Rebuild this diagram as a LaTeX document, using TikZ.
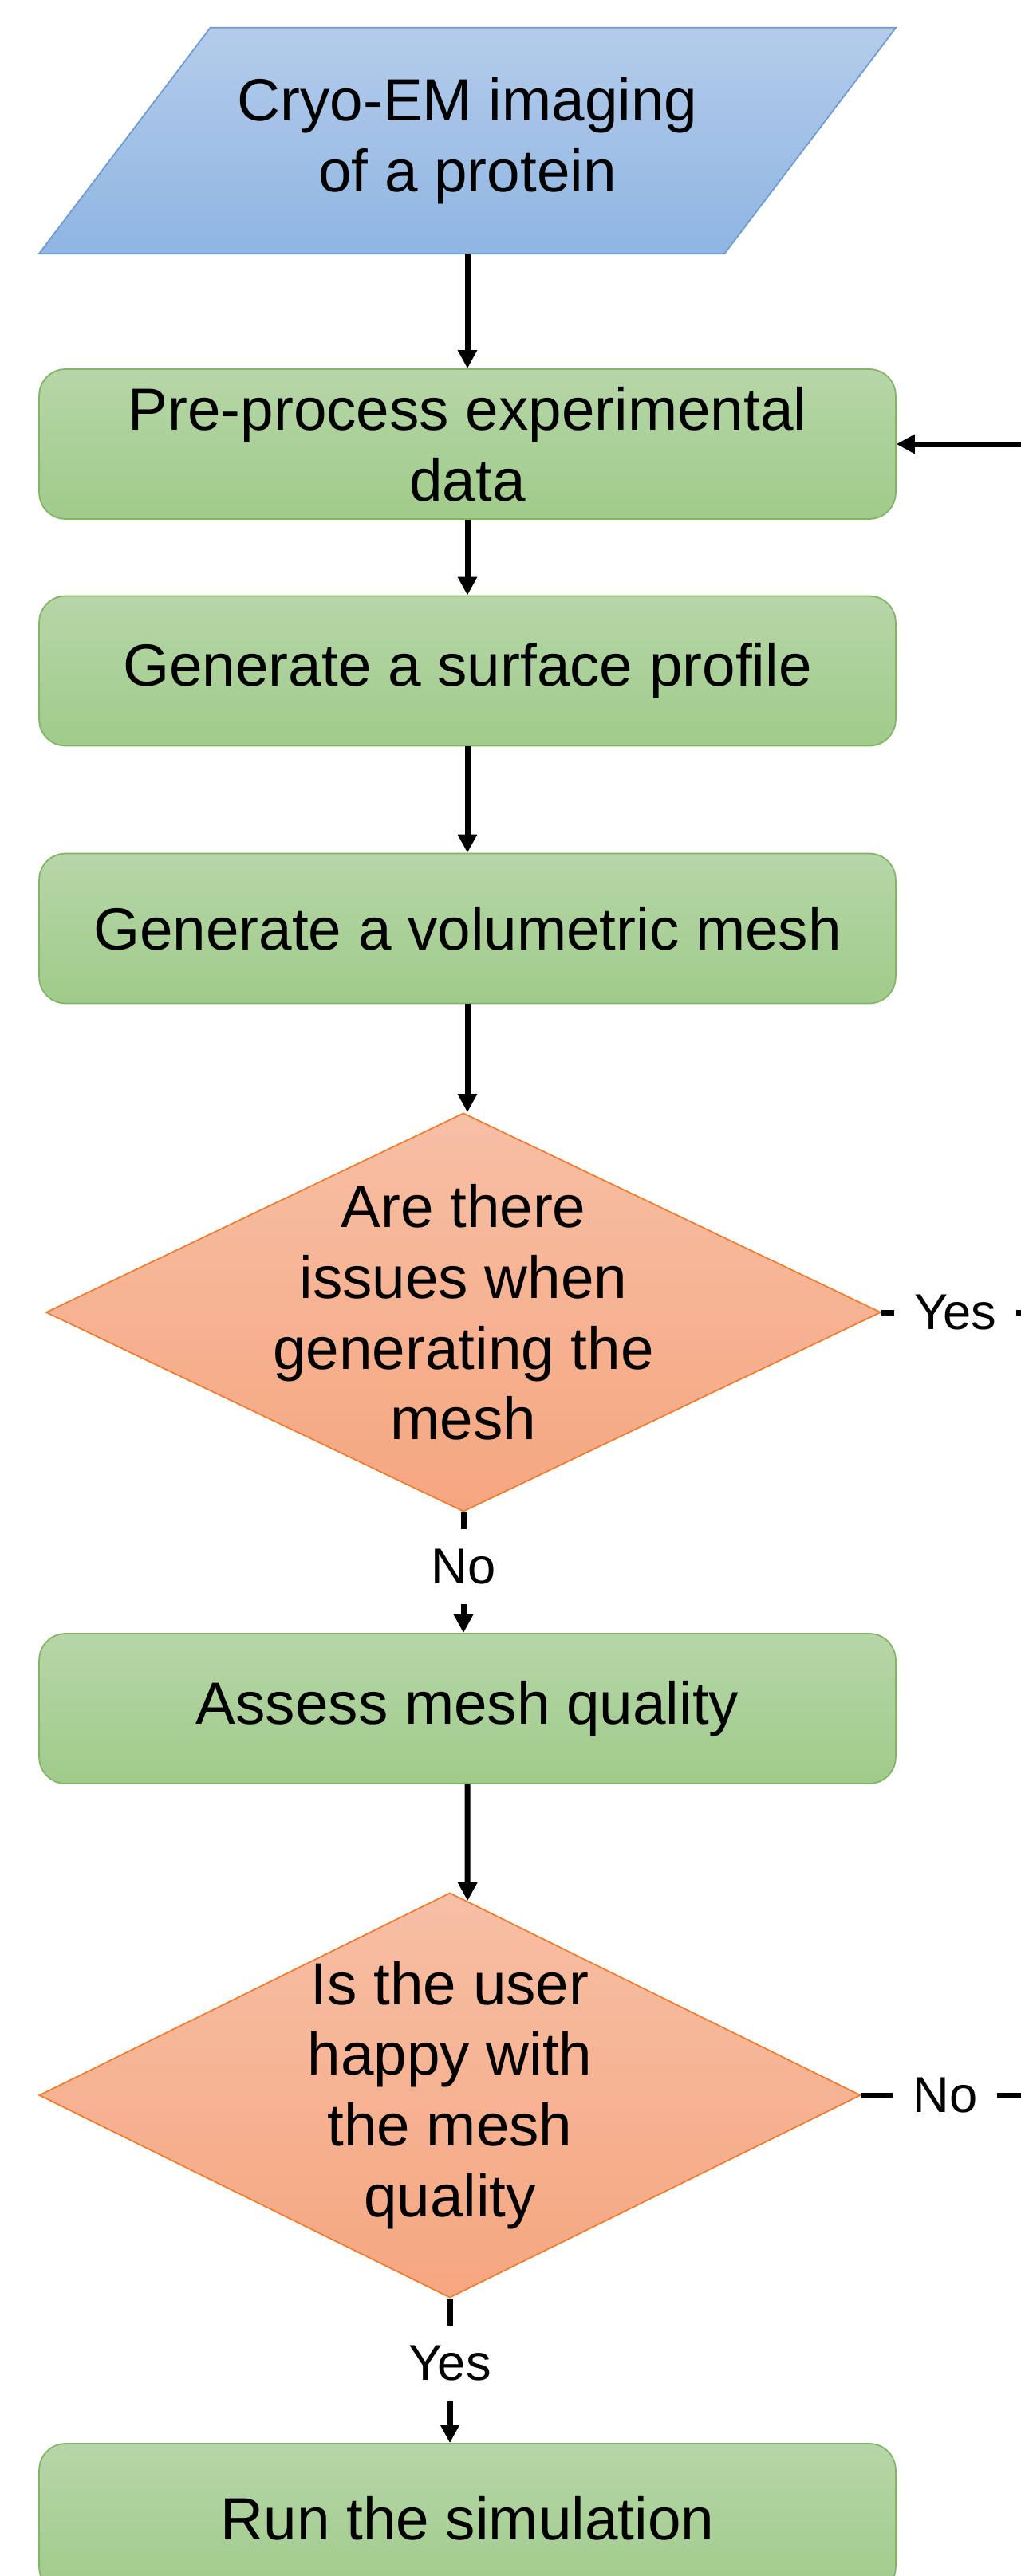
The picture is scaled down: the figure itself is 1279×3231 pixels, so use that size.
\documentclass[tikz,border=0pt]{standalone}
\usepackage{fontspec}
\setmainfont{Liberation Sans}
\usetikzlibrary{arrows.meta,calc,backgrounds,shapes.geometric}
\definecolor{bluetop}{RGB}{180,204,234}
\definecolor{bluebot}{RGB}{143,181,226}
\definecolor{blueline}{RGB}{110,155,210}
\definecolor{greentop}{RGB}{182,214,168}
\definecolor{greenbot}{RGB}{160,203,138}
\definecolor{greenline}{RGB}{130,179,102}
\definecolor{orangetop}{RGB}{247,191,165}
\definecolor{orangebot}{RGB}{245,166,128}
\definecolor{orangeline}{RGB}{237,125,49}

\begin{document}
\begin{tikzpicture}[x=0.02cm, y=-0.02cm,
every node/.style={font=\fontsize{42.5}{50.5}\selectfont, align=center},
io/.style={rectangle, minimum width=21.48cm, minimum height=5.66cm},
slanted/.style={draw=blueline, line width=1pt, top color=bluetop, bottom color=bluebot},
process/.style={rectangle, rounded corners=0.66cm, minimum width=21.48cm,
  minimum height=3.76cm, draw=greenline, line width=1pt,
  top color=greentop, bottom color=greenbot},
decision/.style={diamond, inner sep=0pt, draw=orangeline, line width=1pt,
  top color=orangetop, bottom color=orangebot},
flow/.style={line width=0.14cm, -{Triangle[length=0.46cm,width=0.46cm]}},
answer/.style={fill=white, inner sep=0.5cm, font=\fontsize{36}{43}\selectfont}]
\useasboundingbox (0,0) rectangle (1279,3231);

\node[io] (img) at (586,176.5) {Cryo-EM imaging\\of a protein};
\begin{scope}[on background layer]
\path[slanted] ($(img.north west)+(215,0)$) -- (img.north east)
  -- ($(img.south east)-(215,0)$) -- (img.south west) -- cycle;
\end{scope}
\node[process] (pre) at (586,557) {Pre-process experimental\\data};
\node[process] (surf) at (586,841.5) {Generate a surface profile};
\node[process] (vol) at (586,1164.5) {Generate a volumetric mesh};
\node[decision, minimum width=20.94cm, minimum height=10cm,
  label={center:Are there\\issues when\\generating the\\mesh}] (issue) at (581,1646) {};
\node[process] (assess) at (586,2143) {Assess mesh quality};
\node[decision, minimum width=20.6cm, minimum height=10.16cm,
  label={center:Is the user\\happy with\\the mesh\\quality}] (happy) at (564,2628) {};
\node[process] (sim) at (586,3159) {Run the simulation};

% main flow
\draw[flow] (img.south) -- (pre.north);
\draw[flow] (pre.south) -- (surf.north);
\draw[flow] (surf.south) -- (vol.north);
\draw[flow] (vol.south) -- (vol.south |- issue.north);
\draw[flow] (issue.south) -- node[answer, pos=0.45] {No} (issue.south |- assess.north);
\draw[flow] (assess.south) -- ($(happy.north)!0.043!(happy.east)$);
\draw[flow] (happy.south) -- node[answer, pos=0.45] {Yes} (happy.south |- sim.north);

% loop back (the vertical part lies past the right edge)
\coordinate (rt) at (1290,0);
\draw[flow] (issue.east) -- node[answer] {Yes} (issue.east -| rt) |- (pre.east);
\draw[line width=0.14cm] (happy.east) -- node[answer] {No} (happy.east -| rt) -- (issue.east -| rt);
\end{tikzpicture}
\end{document}
